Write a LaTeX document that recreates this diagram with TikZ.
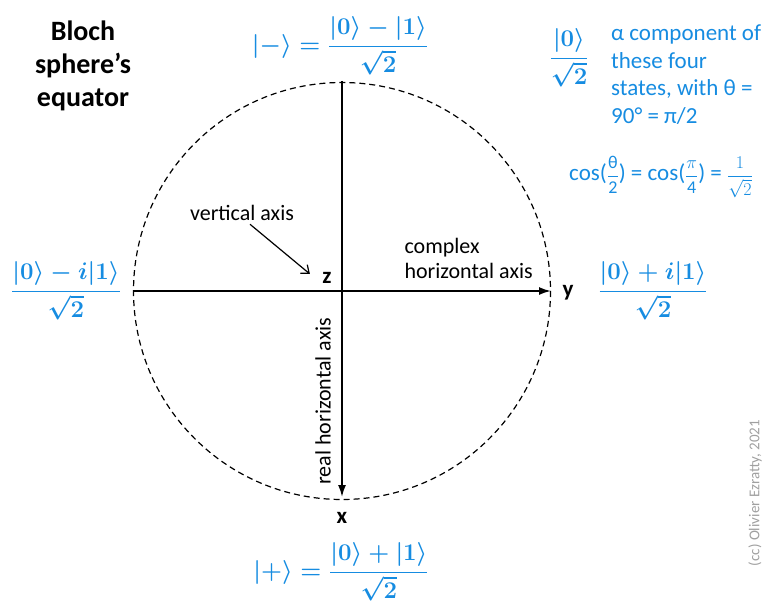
\documentclass[tikz,border=0pt]{standalone}
\usepackage{fix-cm}
\usepackage{amsmath, amssymb}
\usepackage{fontspec}
\setmainfont{Carlito}
\usepackage{xcolor}
\usetikzlibrary{arrows.meta, positioning}

\definecolor{qblue}{RGB}{22,140,225}
\definecolor{ccgray}{RGB}{160,160,160}

\newcommand{\smallfrac}[2]{{\fontsize{18}{21}\selectfont$\dfrac{#1}{#2}$}}

\begin{document}
\begin{tikzpicture}[x=1pt, y=-1pt,
    state/.style={text=qblue, font=\fontsize{24}{28}\selectfont\boldmath},
    blurb/.style={text=qblue, font=\fontsize{23}{27.5}\selectfont, align=left, inner sep=1pt},
    axislabel/.style={font=\fontsize{23}{26}\selectfont\bfseries},
    note/.style={font=\fontsize{22}{25}\selectfont},
    axis/.style={line width=1.8pt, -{Latex[length=12pt,width=8pt]}},
    pointer/.style={line width=1.2pt, -{Straight Barb[length=7pt,width=11pt]}}]
    \useasboundingbox (0,0) rectangle (775,604);

    % Title
    \node[font=\fontsize{28}{33}\selectfont\bfseries, align=center] (title) at (83,66) {Bloch\\sphere’s\\equator};

    % Equator circle
    \coordinate (O) at (342,291);
    \draw[line width=1.2pt, dash pattern=on 6pt off 4pt] (O) circle (208.5);

    % Axes
    \coordinate (ztop) at (342,81);
    \coordinate (xend) at (342,497);
    \coordinate (yleft) at (133,291);
    \coordinate (yend) at (551,291);
    \draw[axis] (ztop) -- (xend);
    \draw[axis] (yleft) -- (yend);

    % Axis names
    \node[axislabel] (xlab) at (342,518) {x};
    \node[axislabel] (ylab) at (568,293) {y};
    \node[axislabel] (zlab) at (327,278) {z};

    % Axis notes
    \node[note] (vert) at (242,213) {vertical axis};
    \draw[pointer] ([xshift=8pt]vert.south) -- ([xshift=-9pt, yshift=4pt]zlab.west);
    \node[note, align=left, anchor=west] (cplx) at (401,258) {complex\\horizontal axis};
    \node[note, rotate=90] (real) at (323,401) {real horizontal axis};

    % The four states on the equator
    \node[state] (minus) at (340,46) {$|-\rangle = \dfrac{|0\rangle - |1\rangle}{\sqrt{2}}$};
    \node[state] (plus) at (341,572) {$|+\rangle = \dfrac{|0\rangle + |1\rangle}{\sqrt{2}}$};
    \node[state] (minusi) at (66,291) {$\dfrac{|0\rangle - i|1\rangle}{\sqrt{2}}$};
    \node[state] (plusi) at (653,291) {$\dfrac{|0\rangle + i|1\rangle}{\sqrt{2}}$};

    % Alpha component
    \node[state, inner sep=1pt] (alpha) at (569,58) {$\dfrac{|0\rangle}{\sqrt{2}}$};
    \node[blurb, anchor=north west] (blurb) at (610,24) {α component of\\these four\\states, with θ =\\90° = π/2};
    \node[blurb] (cosid) at (661,177) {cos(\smallfrac{\text{θ}}{\text{2}}) = cos(\smallfrac{\pi}{\text{4}}) = \smallfrac{1}{\sqrt{2}}};

    % Credit
    \node[rotate=90, text=ccgray, font=\fontsize{15}{17}\selectfont] (credit) at (755,493) {(cc) Olivier Ezratty, 2021};
\end{tikzpicture}
\end{document}
